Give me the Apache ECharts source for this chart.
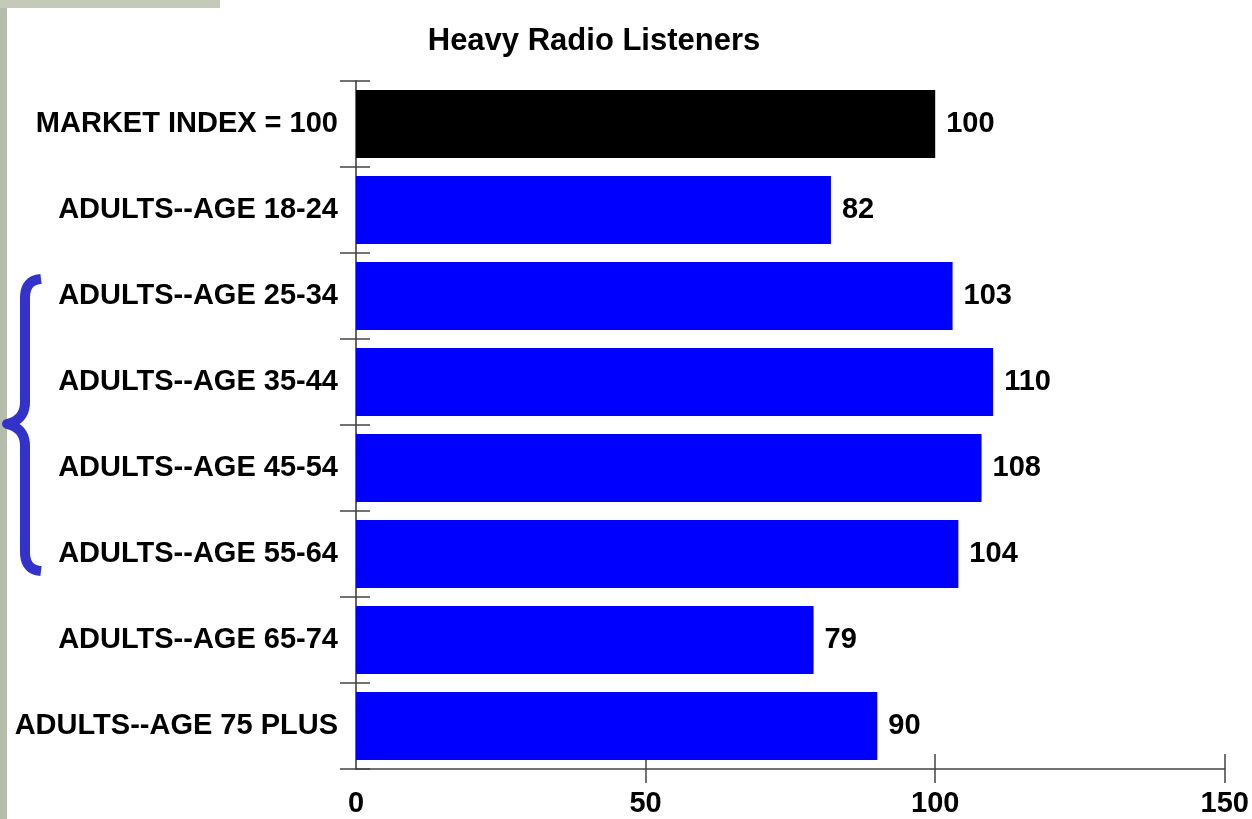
<!DOCTYPE html>
<html>
<head>
<meta charset="utf-8">
<script src="https://cdn.jsdelivr.net/npm/echarts@6/dist/echarts.min.js"></script>
<style>
html,body{margin:0;padding:0;background:#ffffff;}
#c{width:1252px;height:819px;}
</style>
</head>
<body>
<div id="c"></div>
<script>
var categories = ['MARKET INDEX = 100','ADULTS--AGE 18-24','ADULTS--AGE 25-34','ADULTS--AGE 35-44','ADULTS--AGE 45-54','ADULTS--AGE 55-64','ADULTS--AGE 65-74','ADULTS--AGE 75 PLUS'];
var values = [100, 82, 103, 110, 108, 104, 79, 90];
var xTicks = [0, 50, 100, 150];
var tickMarks = [50, 100, 150];

var FONT = '"Liberation Sans", Arial, sans-serif';
var chart = echarts.init(document.getElementById('c'), null, {renderer:'canvas'});
var lbl = {fontFamily: FONT, fontWeight: 'bold', fontSize: 29, color: '#000'};

// decorative curly brace (not data) built from quadratic segments
function quad(p0, c, p1, n) {
  var pts = [];
  for (var i = 0; i <= n; i++) {
    var t = i / n, u = 1 - t;
    pts.push([u*u*p0[0] + 2*u*t*c[0] + t*t*p1[0], u*u*p0[1] + 2*u*t*c[1] + t*t*p1[1]]);
  }
  return pts;
}
var brace = [].concat(
  quad([41,279],[25,280],[25,298],10),
  quad([25,402],[25,420],[7,424],10),
  quad([7,424],[25,428],[25,446],10),
  quad([25,552],[25,570],[41,571],10)
);

chart.setOption({
  backgroundColor: '#ffffff',
  animation: false,
  title: {
    text: 'Heavy Radio Listeners',
    left: 589, top: 21, textAlign: 'center',
    textStyle: {fontFamily: FONT, fontWeight: 'bold', fontSize: 31, color: '#000'}
  },
  graphic: [
    {type: 'rect', z: -10, silent: true, shape: {x: 0, y: 0, width: 7, height: 819}, style: {fill: '#b6bcab'}},
    {type: 'rect', z: -10, silent: true, shape: {x: 0, y: 0, width: 220, height: 8}, style: {fill: '#c4c9ba'}},
    {type: 'polyline', z: 10, silent: true, shape: {points: brace},
     style: {fill: 'none', stroke: '#3333cc', lineWidth: 10, lineJoin: 'round', lineCap: 'butt'}}
  ],
  grid: {left: 356, right: 26, top: 81, bottom: 50, containLabel: false},
  xAxis: [
    {type: 'value', min: 0, max: 150, interval: 50, position: 'bottom',
     splitLine: {show: false},
     axisLine: {show: true, lineStyle: {color: '#444', width: 1.5}},
     axisTick: {show: true, length: 14, customValues: tickMarks, lineStyle: {color: '#444', width: 1.5}},
     axisLabel: Object.assign({margin: 20, customValues: xTicks}, lbl)},
    {type: 'value', min: 0, max: 150, interval: 50, position: 'bottom',
     splitLine: {show: false},
     axisLine: {show: false},
     axisTick: {show: true, inside: true, length: 15, customValues: tickMarks, lineStyle: {color: '#444', width: 1.5}},
     axisLabel: {show: false}}
  ],
  yAxis: [
    {type: 'category', data: categories, inverse: true,
     axisLine: {show: true, lineStyle: {color: '#666', width: 2}},
     axisTick: {show: true, length: 16, lineStyle: {color: '#444', width: 1.5}},
     axisLabel: Object.assign({margin: 18}, lbl)},
    {type: 'category', data: categories, inverse: true, position: 'left',
     axisLine: {show: false},
     axisTick: {show: true, inside: true, length: 14, lineStyle: {color: '#444', width: 1.5}},
     axisLabel: {show: false}}
  ],
  series: [{
    type: 'bar',
    xAxisIndex: 0, yAxisIndex: 0,
    barCategoryGap: '21%',
    data: values.map(function(v, i){ return {value: v, itemStyle: {color: i === 0 ? '#000000' : '#0000ff'}}; }),
    label: Object.assign({show: true, position: 'right', distance: 11}, lbl)
  }]
});
</script>
</body>
</html>
